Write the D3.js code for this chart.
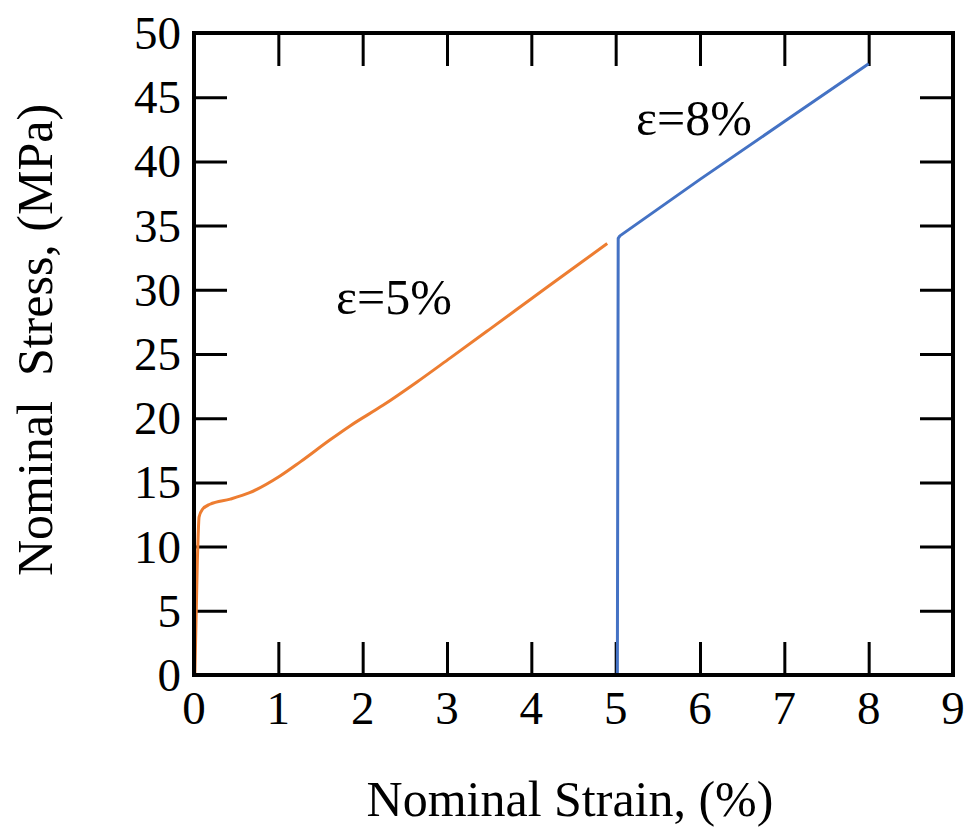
<!DOCTYPE html>
<html>
<head>
<meta charset="utf-8">
<script src="https://cdn.jsdelivr.net/npm/d3@7"></script>
<style>
  body { margin: 0; background: #fff; }
  svg text { font-family: "Liberation Serif", "Times New Roman", serif; fill: #000; }
</style>
</head>
<body>
<div id="chart"></div>
<script>
// tick labels
var xTicks = [0, 1, 2, 3, 4, 5, 6, 7, 8, 9];
var yTicks = [0, 5, 10, 15, 20, 25, 30, 35, 40, 45, 50];

// eps = 5% loading curve (strain %, stress MPa)
var strain5 = [0.01, 0.02, 0.03, 0.04, 0.05, 0.06, 0.1, 0.19, 0.43, 0.66, 1.02, 1.26, 1.61, 1.85, 2.24, 2.64, 3.04, 3.5, 4.0, 4.5, 4.9];
var stress5 = [0, 3, 6, 9, 11, 12.3, 12.9, 13.3, 13.7, 14.2, 15.5, 16.6, 18.3, 19.4, 21.0, 22.8, 24.7, 26.9, 29.3, 31.7, 33.6];

// eps = 8% reloading curve
var strain8 = [5.02, 5.03, 5.05, 6.0, 7.0, 8.0];
var stress8 = [0, 34.0, 34.2, 38.6, 43.1, 47.6];

var W = 971, H = 837;
var margin = {left: 194, right: W - 953, top: 33, bottom: H - 675};

var svg = d3.select('#chart').append('svg')
    .attr('width', W)
    .attr('height', H);

var x = d3.scaleLinear().domain([0, 9]).range([margin.left, W - margin.right]);
var y = d3.scaleLinear().domain([0, 50]).range([H - margin.bottom, margin.top]);

var tickLen = 33;
var tickFont = 47;
var titleFont = 50;

//inner ticks on all four sides
var axes = svg.append('g').attr('class', 'axes');
function styleAxis(g){
    g.select('.domain').remove();
    g.selectAll('line').attr('stroke', '#000').attr('stroke-width', 3);
}
axes.append('g')
    .attr('transform', 'translate(0,' + y(0) + ')')
    .call(d3.axisTop(x).tickValues(xTicks.slice(1, -1)).tickSize(tickLen).tickFormat(''))
    .call(styleAxis);
axes.append('g')
    .attr('transform', 'translate(0,' + y(50) + ')')
    .call(d3.axisBottom(x).tickValues(xTicks.slice(1, -1)).tickSize(tickLen).tickFormat(''))
    .call(styleAxis);
axes.append('g')
    .attr('transform', 'translate(' + x(0) + ',0)')
    .call(d3.axisRight(y).tickValues(yTicks.slice(1, -1)).tickSize(tickLen).tickFormat(''))
    .call(styleAxis);
axes.append('g')
    .attr('transform', 'translate(' + x(9) + ',0)')
    .call(d3.axisLeft(y).tickValues(yTicks.slice(1, -1)).tickSize(tickLen).tickFormat(''))
    .call(styleAxis);

//tick labels
svg.append('g').selectAll('text')
    .data(xTicks)
    .enter()
        .append('text')
        .attr('x', function(d){ return x(d); })
        .attr('y', y(0) + 49)
        .attr('text-anchor', 'middle')
        .style('font-size', tickFont + 'px')
        .text(function(d){ return d; });

svg.append('g').selectAll('text')
    .data(yTicks)
    .enter()
        .append('text')
        .attr('x', x(0) - 13)
        .attr('y', function(d){ return y(d); })
        .attr('dy', '0.34em')
        .attr('text-anchor', 'end')
        .style('font-size', tickFont + 'px')
        .text(function(d){ return d; });

//curves
var line = d3.line()
    .curve(d3.curveMonotoneX)
    .x(function(d){ return x(d[0]); })
    .y(function(d){ return y(d[1]); });

svg.append('path')
    .datum(d3.zip(strain5, stress5))
    .attr('d', line)
    .attr('fill', 'none')
    .attr('stroke', '#ED7D31')
    .attr('stroke-width', 3)
    .attr('stroke-linejoin', 'round');

svg.append('path')
    .datum(d3.zip(strain8, stress8))
    .attr('d', line.curve(d3.curveLinear))
    .attr('fill', 'none')
    .attr('stroke', '#4472C4')
    .attr('stroke-width', 3)
    .attr('stroke-linejoin', 'round');

//frame
svg.append('rect')
    .attr('x', x(0))
    .attr('y', y(50))
    .attr('width', x(9) - x(0))
    .attr('height', y(0) - y(50))
    .attr('fill', 'none')
    .attr('stroke', '#000')
    .attr('stroke-width', 4);

//annotations
svg.append('text')
    .attr('x', 694)
    .attr('y', 118)
    .attr('dy', '0.34em')
    .attr('text-anchor', 'middle')
    .style('font-size', titleFont + 'px')
    .text('ε=8%');
svg.append('text')
    .attr('x', 394)
    .attr('y', 297)
    .attr('dy', '0.34em')
    .attr('text-anchor', 'middle')
    .style('font-size', titleFont + 'px')
    .text('ε=5%');

//axis titles
svg.append('text')
    .attr('x', 570)
    .attr('y', 816)
    .attr('text-anchor', 'middle')
    .style('font-size', titleFont + 'px')
    .text('Nominal Strain, (%)');

svg.append('text')
    .attr('transform', 'translate(52,340) rotate(-90)')
    .attr('text-anchor', 'middle')
    .style('font-size', titleFont + 'px')
    .style('white-space', 'pre')
    .text('Nominal  Stress, (MPa)');
</script>
</body>
</html>
